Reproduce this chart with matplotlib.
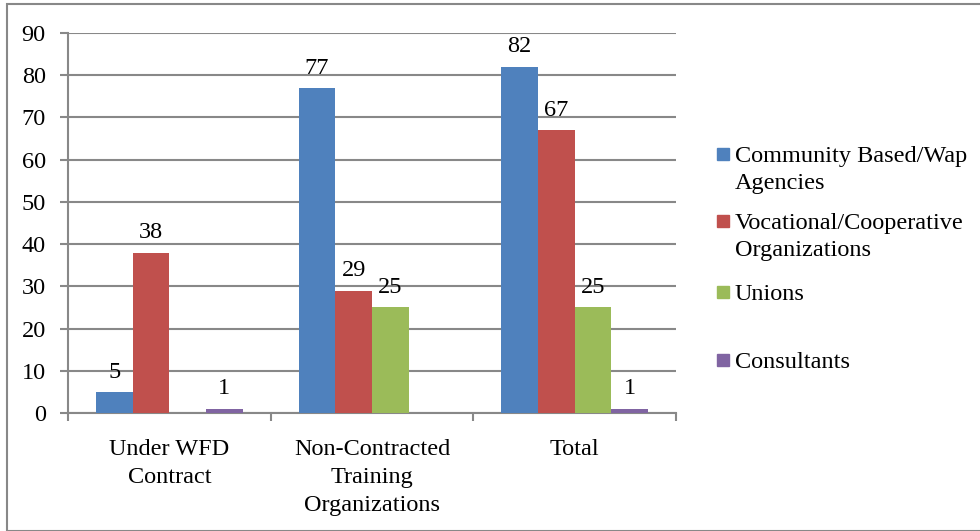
import numpy as np
import matplotlib.pyplot as plt
from matplotlib.patches import Rectangle

plt.rcParams['font.family'] = ['Liberation Serif', 'DejaVu Serif']

categories = ['Under WFD\nContract', 'Non-Contracted\nTraining\nOrganizations', 'Total']
series_names = ['Community Based/Wap\nAgencies', 'Vocational/Cooperative\nOrganizations',
                'Unions', 'Consultants']
community = [5, 77, 82]
vocational = [38, 29, 67]
unions = [0, 25, 25]
consultants = [1, 0, 1]
colors = ['#4F81BD', '#C0504D', '#9BBB59', '#8064A2']

W, H = 980, 531
fig = plt.figure(figsize=(9.8, 5.31), dpi=100)
ax = fig.add_axes([68 / W, 1 - 413 / H, (676 - 68) / W, (413 - 33) / H])

# outer frame
fig.patches.append(Rectangle((7 / W, 0.0), 1.0, 1 - 4 / H, transform=fig.transFigure,
                             fill=False, edgecolor='#888888', linewidth=1.5))

x = np.arange(len(categories))
w = 0.181
fs = 17.5
for i, vals in enumerate([community, vocational, unions, consultants]):
    pos = x + (i - 1.5) * w
    ax.bar(pos, vals, width=w, color=colors[i], zorder=3)
    for p, v in zip(pos, vals):
        if v > 0:
            ax.text(p, v + 2.2, str(v), ha='center', va='bottom', fontsize=fs)

ax.set_xlim(-0.5, 2.5)
ax.set_ylim(0, 90)
ax.set_yticks(range(0, 91, 10))
ax.yaxis.grid(True, color='#888888', linewidth=1.5, zorder=0)
ax.set_axisbelow(True)

ax.set_xticks(x)
ax.set_xticklabels(categories, fontsize=fs, linespacing=1.42)
ax.set_xticks([-0.5, 0.5, 1.5, 2.5], minor=True)
ax.tick_params(axis='x', which='major', length=0, pad=19)
ax.tick_params(axis='x', which='minor', length=6, color='#888888', width=1.5)
ax.tick_params(axis='y', length=6, color='#888888', width=1.5, labelsize=fs, pad=10)

for s in ['top', 'right']:
    ax.spines[s].set_visible(False)
for s in ['left', 'bottom']:
    ax.spines[s].set_color('#888888')
    ax.spines[s].set_linewidth(1.5)

# legend drawn by hand so the swatch sits on the first line of each label
swatch_y = [154, 221, 292, 360]
for name, c, yc in zip(series_names, colors, swatch_y):
    fig.patches.append(Rectangle((717 / W, 1 - (yc + 6) / H), 12 / W, 12 / H,
                                 transform=fig.transFigure, color=c))
    for k, line in enumerate(name.split('\n')):
        fig.text(735 / W, 1 - (yc + 8 + 27 * k) / H, line, fontsize=fs,
                 ha='left', va='baseline')

fig.savefig('out.png', dpi=100)
